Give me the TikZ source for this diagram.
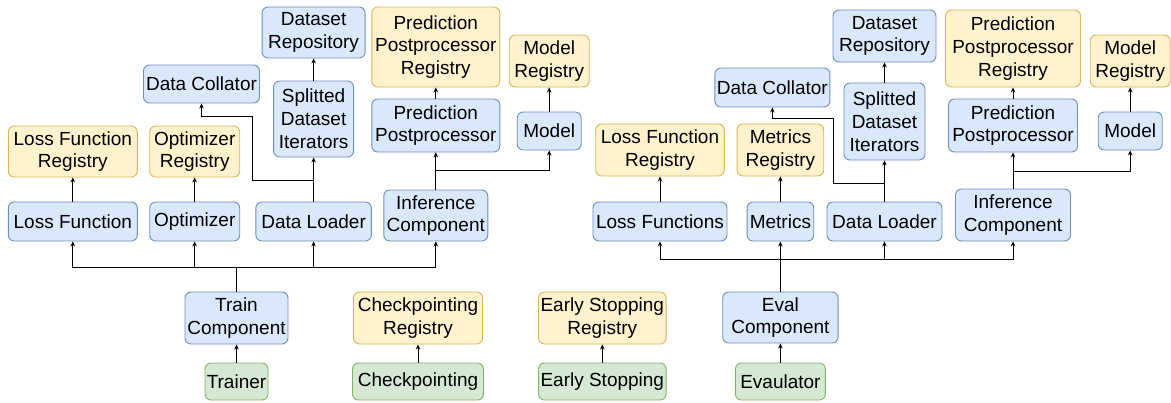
\documentclass[tikz,border=0pt]{standalone}
\usepackage{fontspec}
\setmainfont{Liberation Sans}
\usetikzlibrary{arrows.meta}
\definecolor{bfill}{HTML}{DAE8FC}
\definecolor{bline}{HTML}{6C8EBF}
\definecolor{yfill}{HTML}{FFF2CC}
\definecolor{yline}{HTML}{D6B656}
\definecolor{gfill}{HTML}{D5E8D4}
\definecolor{gline}{HTML}{82B366}
\begin{document}
\begin{tikzpicture}[x=1pt,y=-1pt,
  box/.style={draw, rounded corners=6pt, line width=0.9pt, align=center, inner sep=0pt,
    font=\fontsize{19}{22.8}\selectfont},
  bbox/.style={box, fill=bfill, draw=bline},
  ybox/.style={box, fill=yfill, draw=yline},
  gbox/.style={box, fill=gfill, draw=gline},
  arr/.style={-{Stealth[length=5pt,width=4.5pt]}, line width=1pt, black}]
\useasboundingbox (0,0) rectangle (1171,402);

% ---------- left half ----------
\node[bbox, minimum width=103pt, minimum height=51pt] (dsrL) at (313.6,32.5) {Dataset\\Repository};
\node[ybox, minimum width=128pt, minimum height=80pt] (pprL) at (435.8,47) {Prediction\\Postprocessor\\Registry};
\node[ybox, minimum width=80pt, minimum height=52pt] (mrL) at (549.2,61) {Model\\Registry};
\node[bbox, minimum width=116pt, minimum height=38pt] (dcL) at (201.5,84) {Data Collator};
\node[bbox, minimum width=80pt, minimum height=76pt] (sdiL) at (313.6,119) {Splitted\\Dataset\\Iterators};
\node[bbox, minimum width=128pt, minimum height=53pt] (ppL) at (435.8,125.5) {Prediction\\Postprocessor};
\node[bbox, minimum width=64pt, minimum height=38pt] (modL) at (549.2,131) {Model};
\node[ybox, minimum width=129pt, minimum height=51pt] (lfrL) at (72.8,151.5) {Loss Function\\Registry};
\node[ybox, minimum width=90pt, minimum height=51pt] (optr) at (194.7,151.5) {Optimizer\\Registry};
\node[bbox, minimum width=129pt, minimum height=39pt] (lfL) at (72.8,221.5) {Loss Function};
\node[bbox, minimum width=90pt, minimum height=39pt] (opt) at (194.7,221.5) {Optimizer};
\node[bbox, minimum width=115.5pt, minimum height=39pt] (dlL) at (313.6,221.5) {Data Loader};
\node[bbox, minimum width=104pt, minimum height=51pt] (infL) at (435.8,215.5) {Inference\\Component};
\node[bbox, minimum width=103pt, minimum height=52pt] (train) at (236.5,318) {Train\\Component};
\node[gbox, minimum width=63pt, minimum height=37pt] (trainer) at (236.5,381.5) {Trainer};
\node[ybox, minimum width=129pt, minimum height=52pt] (ckr) at (418,318) {Checkpointing\\Registry};
\node[gbox, minimum width=131pt, minimum height=37pt] (ck) at (418,381.5) {Checkpointing};

% ---------- right half ----------
\node[ybox, minimum width=127.6pt, minimum height=52pt] (esr) at (602.3,318) {Early Stopping\\Registry};
\node[gbox, minimum width=127.6pt, minimum height=37pt] (es) at (602.3,381.5) {Early Stopping};
\node[bbox, minimum width=115.4pt, minimum height=51pt] (eval) at (780.4,317.5) {Eval\\Component};
\node[gbox, minimum width=90pt, minimum height=37pt] (evaluator) at (780.4,381.5) {Evaulator};

\node[bbox, minimum width=103pt, minimum height=52pt] (dsrR) at (884.5,36) {Dataset\\Repository};
\node[ybox, minimum width=135pt, minimum height=77pt] (pprR) at (1013,48.5) {Prediction\\Postprocessor\\Registry};
\node[ybox, minimum width=80pt, minimum height=52pt] (mrR) at (1130.2,61) {Model\\Registry};
\node[bbox, minimum width=115pt, minimum height=39pt] (dcR) at (772.4,87.5) {Data Collator};
\node[bbox, minimum width=81pt, minimum height=77pt] (sdiR) at (884.5,121.5) {Splitted\\Dataset\\Iterators};
\node[bbox, minimum width=129pt, minimum height=53pt] (ppR) at (1013,125.5) {Prediction\\Postprocessor};
\node[bbox, minimum width=64pt, minimum height=38pt] (modR) at (1130.2,131) {Model};
\node[ybox, minimum width=128.6pt, minimum height=52pt] (lfrR) at (660,150) {Loss Function\\Registry};
\node[ybox, minimum width=86.7pt, minimum height=52pt] (metr) at (780.4,150) {Metrics\\Registry};
\node[bbox, minimum width=134pt, minimum height=39pt] (lfs) at (660,221.5) {Loss Functions};
\node[bbox, minimum width=66.7pt, minimum height=39pt] (met) at (780.4,221.5) {Metrics};
\node[bbox, minimum width=115pt, minimum height=39pt] (dlR) at (884.5,221.5) {Data Loader};
\node[bbox, minimum width=115pt, minimum height=52pt] (infR) at (1013,215) {Inference\\Component};

% ---------- connectors left ----------
\draw[arr] (lfL.north) -- (lfrL.south);
\draw[arr] (opt.north) -- (optr.south);
\draw[arr] (dlL.north) -- (sdiL.south);
\draw[arr] (sdiL.north) -- (dsrL.south);
\coordinate (dcL1) at (252.9,180);
\coordinate (dcL2) at (252.9,116);
\draw[arr] (dlL.north) |- (dcL1) -- (dcL2) -| (dcL.south);
\coordinate (infL1) at (435.8,170);
\draw[arr] (infL.north) -- (ppL.south);
\draw[arr] (infL.north) -- (infL1) -| (modL.south);
\draw[arr] (ppL.north) -- (pprL.south);
\draw[arr] (modL.north) -- (mrL.south);
\coordinate (busL) at (236.5,267);
\draw[arr] (train.north) -- (busL) -| (lfL.south);
\draw[arr] (train.north) -- (busL) -| (opt.south);
\draw[arr] (train.north) -- (busL) -| (dlL.south);
\draw[arr] (train.north) -- (busL) -| (infL.south);
\draw[arr] (trainer.north) -- (train.south);
\draw[arr] (ck.north) -- (ckr.south);

% ---------- connectors right ----------
\draw[arr] (es.north) -- (esr.south);
\draw[arr] (evaluator.north) -- (eval.south);
\draw[arr] (lfs.north) -- (lfrR.south);
\draw[arr] (met.north) -- (metr.south);
\draw[arr] (dlR.north) -- (sdiR.south);
\draw[arr] (sdiR.north) -- (dsrR.south);
\coordinate (dcR1) at (833.3,183);
\coordinate (dcR2) at (833.3,118);
\draw[arr] (dlR.north) |- (dcR1) -- (dcR2) -| (dcR.south);
\coordinate (infR1) at (1013,171);
\draw[arr] (infR.north) -- (ppR.south);
\draw[arr] (infR.north) -- (infR1) -| (modR.south);
\draw[arr] (ppR.north) -- (pprR.south);
\draw[arr] (modR.north) -- (mrR.south);
\coordinate (busR) at (780.4,259);
\draw[arr] (eval.north) -- (busR) -| (lfs.south);
\draw[arr] (eval.north) -- (met.south);
\draw[arr] (eval.north) -- (busR) -| (dlR.south);
\draw[arr] (eval.north) -- (busR) -| (infR.south);
\end{tikzpicture}
\end{document}
